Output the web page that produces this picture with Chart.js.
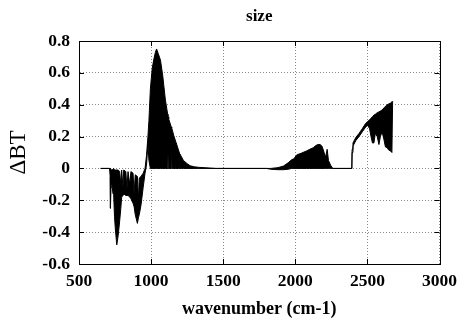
<!DOCTYPE html>
<html>
<head>
<meta charset="utf-8">
<script src="https://cdn.jsdelivr.net/npm/chart.js@4/dist/chart.umd.min.js"></script>
<style>
  html, body { margin: 0; padding: 0; background: #fff; }
  #wrap { width: 464px; height: 320px; }
</style>
</head>
<body>
<div id="wrap"><canvas id="bt"></canvas></div>
<script>
// spectrum: wavenumber with upper and lower edge of the dense trace
const wavenumbers = [650, 712, 716, 718, 722, 728, 736, 740, 746, 752, 762, 772, 782, 790, 796, 805, 810, 825, 832, 840, 852, 860, 875, 882, 890, 905, 912, 918, 930, 945, 958, 968, 978,
    985, 995, 1008, 1020, 1030, 1038, 1050, 1065, 1081, 1099, 1115, 1117, 1119, 1122, 1140, 1143, 1146, 1156, 1172, 1174, 1176, 1190, 1199, 1201, 1203, 1210, 1224, 1250, 1270, 1300, 1330, 1380, 1450,
    1800, 1830, 1880, 1918, 1950, 1975, 1990, 2010, 2040, 2078, 2100, 2124, 2145, 2158, 2172, 2185, 2200, 2210, 2221, 2230, 2245, 2260,
    2392, 2394, 2400, 2420, 2442, 2465, 2488, 2502, 2515, 2525, 2535, 2545, 2555, 2568, 2580, 2590, 2602, 2615, 2625, 2637, 2648, 2660, 2670, 2675];
const upperBT = [0, 0, 0, -0.01, -0.01, -0.005, -0.01, 0, -0.01, -0.01, -0.01, -0.01, -0.02, -0.1, -0.01, -0.12, -0.01, -0.02, -0.13, -0.02, -0.1, -0.02, -0.03, -0.16, -0.04, -0.05, -0.2, -0.06, -0.05, -0.03, 0.0, 0.08, 0.2,
    0.3, 0.5, 0.63, 0.69, 0.73, 0.75, 0.72, 0.68, 0.58, 0.43, 0.34, 0.33, 0.325, 0.31, 0.26, 0.25, 0.245, 0.21, 0.165, 0.16, 0.155, 0.115, 0.09, 0.088, 0.085, 0.075, 0.05, 0.03, 0.017, 0.01, 0.007, 0.004, 0,
    0, 0, 0.005, 0.015, 0.035, 0.055, 0.06, 0.085, 0.095, 0.11, 0.12, 0.13, 0.145, 0.15, 0.15, 0.14, 0.1, 0.07, 0.12, 0.05, 0.02, 0,
    0, 0.12, 0.16, 0.195, 0.22, 0.25, 0.283, 0.295, 0.305, 0.315, 0.325, 0.335, 0.34, 0.35, 0.355, 0.36, 0.367, 0.38, 0.39, 0.4, 0.405, 0.41, 0.419, 0.42];
const lowerBT = [0, 0, -0.05, -0.25, -0.12, -0.1, -0.16, -0.15, -0.3, -0.38, -0.48, -0.42, -0.33, -0.25, -0.18, -0.17, -0.16, -0.17, -0.17, -0.17, -0.18, -0.19, -0.22, -0.24, -0.29, -0.345, -0.31, -0.29, -0.23, -0.12, -0.03, 0.02, 0.15,
    0.05, 0, 0, 0, 0, 0, 0, 0, 0, 0, 0, 0.09, 0, 0, 0, 0.11, 0, 0, 0, 0.1, 0, 0, 0, 0.06, 0, 0, 0, 0, 0, 0, 0, 0, 0,
    0, -0.005, -0.008, -0.008, -0.005, 0, 0, 0, 0, 0, 0, 0, 0, 0, 0, 0, 0, 0, 0, 0, 0, 0,
    0, 0.1, 0.14, 0.175, 0.2, 0.23, 0.26, 0.27, 0.25, 0.2, 0.16, 0.16, 0.22, 0.2, 0.15, 0.2, 0.23, 0.18, 0.135, 0.13, 0.115, 0.11, 0.1, 0.42];
const xTicks = [500, 1000, 1500, 2000, 2500, 3000];
const yTicks = [-0.6, -0.4, -0.2, 0, 0.2, 0.4, 0.6, 0.8];

// box round the plot and short inward ticks, as gnuplot does
const frame = {
    id: "frame",
    afterDraw(chart) {
        const {ctx, chartArea: a, scales: {x, y}} = chart;
        ctx.save();
        ctx.strokeStyle = "#000";
        ctx.lineWidth = 1;
        ctx.beginPath();
        xTicks.forEach(v => {
            const p = Math.round(x.getPixelForValue(v)) + 0.5;
            ctx.moveTo(p, a.bottom); ctx.lineTo(p, a.bottom - 5);
            ctx.moveTo(p, a.top); ctx.lineTo(p, a.top + 5);
        });
        yTicks.forEach(v => {
            const p = Math.round(y.getPixelForValue(v)) + 0.5;
            ctx.moveTo(a.left, p); ctx.lineTo(a.left + 5, p);
            ctx.moveTo(a.right, p); ctx.lineTo(a.right - 5, p);
        });
        ctx.stroke();
        ctx.strokeRect(Math.round(a.left) + 0.5, Math.round(a.top) + 0.5, Math.round(a.right - a.left), Math.round(a.bottom - a.top));
        ctx.restore();
    }
};

Chart.defaults.font.family = "Liberation Serif";
const toPoints = arr => wavenumbers.map((w, i) => ({x: w, y: arr[i]}));

new Chart(document.getElementById("bt"), {
    type: "scatter",
    data: {
        datasets: [{
            data: toPoints(upperBT),
            showLine: true,
            borderColor: "#000",
            backgroundColor: "#000",
            borderWidth: 1,
            pointRadius: 0,
            fill: "+1"
        }, {
            data: toPoints(lowerBT),
            showLine: true,
            borderColor: "#000",
            borderWidth: 1,
            pointRadius: 0,
            fill: false
        }]
    },
    options: {
        responsive: true,
        maintainAspectRatio: false,
        animation: false,
        layout: { padding: { left: 0, right: 19, top: 0, bottom: 0 } },
        plugins: {
            legend: { display: false },
            tooltip: { enabled: false },
            title: {
                display: true,
                text: "size",
                fullSize: false,
                color: "#000",
                font: { size: 17, weight: "bold", lineHeight: 1.2 },
                padding: { top: 6, bottom: 14.6 }
            }
        },
        scales: {
            x: {
                type: "linear",
                min: 500,
                max: 3000,
                afterFit: s => { s.height = 56; },
                afterBuildTicks: s => { s.ticks = xTicks.map(v => ({value: v})); },
                ticks: {
                    color: "#000",
                    padding: 7,
                    maxRotation: 0,
                    font: { size: 17.5, weight: "bold" },
                    callback: v => String(v)
                },
                grid: { color: "#888", drawTicks: false },
                border: { color: "#000", dash: [1, 2] },
                title: {
                    display: true,
                    text: "wavenumber (cm-1)",
                    color: "#000",
                    font: { size: 18, weight: "bold", lineHeight: 1.2 },
                    padding: { top: 0, bottom: 0 }
                }
            },
            y: {
                min: -0.6,
                max: 0.8,
                afterFit: s => { s.width = 79; },
                afterBuildTicks: s => { s.ticks = yTicks.map(v => ({value: v})); },
                ticks: {
                    color: "#000",
                    padding: 9,
                    font: { size: 17.5, weight: "bold" },
                    callback: v => String(Math.round(v * 10) / 10)
                },
                grid: { color: "#888", drawTicks: false },
                border: { color: "#000", dash: [1, 2] },
                title: {
                    display: true,
                    text: "ΔBT",
                    color: "#000",
                    font: { size: 23, weight: "normal", lineHeight: 1.2 },
                    padding: { top: 5, bottom: 0 }
                }
            }
        }
    },
    plugins: [frame]
});
</script>
</body>
</html>
